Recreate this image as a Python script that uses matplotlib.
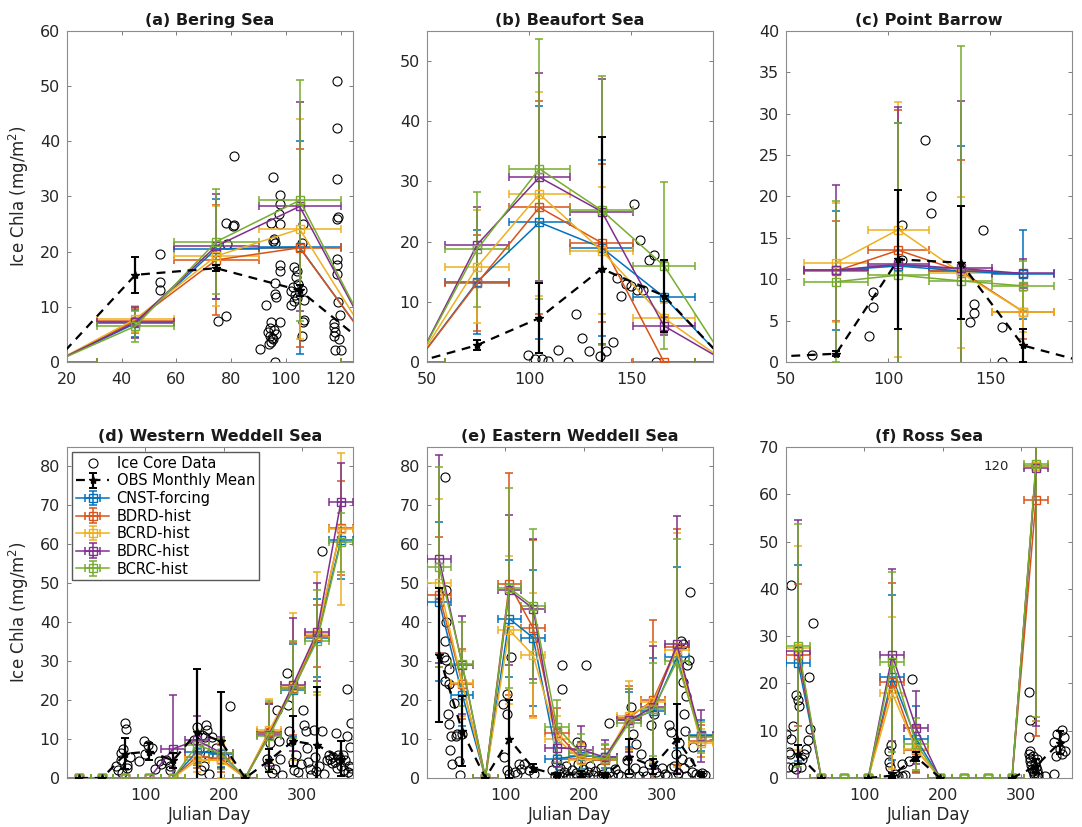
import numpy as np
import matplotlib
matplotlib.use("Agg")
import matplotlib.pyplot as plt

plt.rcParams['font.family'] = ['DejaVu Sans']

nan = np.nan

# calendar month boundaries (day of year); bars span each month
month_edges = [0, 31, 59, 90, 120, 151, 181, 212, 243, 273, 304, 334, 365]
day_mid = [(a + b) / 2 for a, b in zip(month_edges[:-1], month_edges[1:])]
day_half = [(b - a) / 2 for a, b in zip(month_edges[:-1], month_edges[1:])]

model_names = ['CNST-forcing', 'BDRD-hist', 'BCRD-hist', 'BDRC-hist', 'BCRC-hist']
model_colors = ['#0072BD', '#D95319', '#EDB120', '#7E2F8E', '#77AC30']

# ---------------- (a) Bering Sea ----------------
bering_model = [
    [0, 7.0, 20.5, 20.8, 0, nan, nan, nan, nan, nan, nan, nan],
    [0, 7.5, 18.5, 20.7, 0, nan, nan, nan, nan, nan, nan, nan],
    [0, 7.8, 19.2, 24.1, 0, nan, nan, nan, nan, nan, nan, nan],
    [0, 7.2, 21.0, 28.2, 0, nan, nan, nan, nan, nan, nan, nan],
    [0, 6.5, 21.8, 29.3, 0, nan, nan, nan, nan, nan, nan, nan],
]
bering_model_err = [
    [0, 2.5, 9.0, 19.3, 0, nan, nan, nan, nan, nan, nan, nan],
    [0, 2.2, 10.0, 18.0, 0, nan, nan, nan, nan, nan, nan, nan],
    [0, 2.3, 9.1, 20.0, 0, nan, nan, nan, nan, nan, nan, nan],
    [0, 2.8, 9.5, 19.0, 0, nan, nan, nan, nan, nan, nan, nan],
    [0, 2.8, 9.5, 21.8, 0, nan, nan, nan, nan, nan, nan, nan],
]
bering_obs = [0, 15.8, 17.0, 13.0, 0.7, nan, nan, nan, nan, nan, nan, nan]
bering_obs_err = [0, 3.3, 0.5, 1.0, 0, nan, nan, nan, nan, nan, nan, nan]
bering_core_x = [54.1, 54.1, 54.1, 81, 78, 80.7, 81.2, 78.3, 78, 75,
                 95.4, 94.6, 98, 97.8, 97.6, 97.8, 95.5, 95.2, 96, 98, 97.8, 95.9, 95.9, 96.2,
                 92.8, 97.8, 94.5, 94, 93.5, 94.2, 94.8, 95.3, 94.6, 93.8, 95.5, 96.2, 90.7, 95.9,
                 103, 103.5, 102.5, 102, 103.2, 104, 102.8, 104.5, 101.8, 104, 106, 106.3, 106,
                 106.7, 106.5, 106.3, 105.8,
                 118.8, 118.8, 118.8, 118.8, 119, 118.8, 118.8, 118.8, 119.1, 119.8, 117.6,
                 117.5, 117.9, 117.6, 119.4, 117.9, 120]
bering_core_y = [19.5, 14.5, 13.1, 37.3, 25.2, 24.6, 24.8, 21.3, 8.3, 7.4,
                 33.5, 25.2, 30.3, 28.6, 26.9, 25.0, 22.3, 21.9, 21.6, 17.5, 16.5, 14.3, 12.4, 11.8,
                 10.4, 7.2, 7.3, 6.2, 5.4, 4.8, 4.4, 4.1, 3.6, 3.2, 5.8, 5.0, 2.3, 0.0,
                 17.2, 15.4, 13.6, 12.8, 12.2, 11.6, 11.1, 14.2, 10.3, 16.5, 21.5, 25.0, 13.0,
                 11.2, 7.6, 7.3, 4.8,
                 51.0, 42.5, 33.2, 25.9, 26.2, 18.7, 17.5, 16.0, 10.9, 8.5, 7.0,
                 6.4, 5.4, 4.8, 4.2, 2.2, 2.1]

# ---------------- (b) Beaufort Sea ----------------
beaufort_model = [
    [nan, 0, 13.3, 23.2, 19.0, 10.8, 0, nan, nan, nan, nan, nan],
    [nan, 0, 13.1, 25.7, 19.8, 0.0, 0, nan, nan, nan, nan, nan],
    [nan, 0, 15.8, 27.9, 18.5, 7.3, 0, nan, nan, nan, nan, nan],
    [nan, 0, 19.5, 30.7, 25.0, 6.0, 0, nan, nan, nan, nan, nan],
    [nan, 0, 18.7, 32.1, 25.2, 16.0, 0, nan, nan, nan, nan, nan],
]
beaufort_model_err = [
    [nan, 0, 8.7, 19.3, 14.6, 6.0, 0, nan, nan, nan, nan, nan],
    [nan, 0, 8.0, 17.7, 13.1, 0.0, 0, nan, nan, nan, nan, nan],
    [nan, 0, 9.4, 17.0, 10.5, 2.5, 0, nan, nan, nan, nan, nan],
    [nan, 0, 6.3, 17.3, 22.0, 1.5, 0, nan, nan, nan, nan, nan],
    [nan, 0, 9.5, 21.6, 22.3, 13.9, 0, nan, nan, nan, nan, nan],
]
beaufort_obs = [nan, 0, 2.8, 7.3, 15.5, 11.0, 0, nan, nan, nan, nan, nan]
beaufort_obs_err = [nan, 0, 0.8, 5.8, 21.9, 6.0, 0, nan, nan, nan, nan, nan]
beaufort_core_x = [151.1, 154.4, 158.9, 161.3, 142.8, 144.8, 147.3, 149.8, 152.7, 155.5, 162.1,
                   99.5, 102.8, 106.1, 109.1, 114, 119, 122.9, 125.9, 129.2, 134.9, 137.4, 141.2]
beaufort_core_y = [26.2, 20.2, 17.0, 17.7, 14.0, 10.9, 13.0, 12.6, 11.9, 11.9, 0.0,
                   1.1, 0.55, 0.55, 0.2, 2.0, 0.0, 8.0, 4.0, 1.8, 0.95, 1.9, 3.3]

# ---------------- (c) Point Barrow ----------------
barrow_model = [
    [nan, nan, 11.1, 11.6, 11.0, 10.6, nan, nan, nan, nan, nan, nan],
    [nan, nan, 11.0, 13.5, 11.0, 6.1, nan, nan, nan, nan, nan, nan],
    [nan, nan, 12.0, 16.0, 10.8, 6.1, nan, nan, nan, nan, nan, nan],
    [nan, nan, 11.1, 11.8, 11.3, 10.7, nan, nan, nan, nan, nan, nan],
    [nan, nan, 9.7, 10.5, 9.8, 9.2, nan, nan, nan, nan, nan, nan],
]
barrow_model_err = [
    [nan, nan, 7.2, 17.3, 15.1, 5.4, nan, nan, nan, nan, nan, nan],
    [nan, nan, 6.0, 17.0, 13.4, 3.3, nan, nan, nan, nan, nan, nan],
    [nan, nan, 7.2, 15.4, 9.1, 2.5, nan, nan, nan, nan, nan, nan],
    [nan, nan, 10.3, 19.0, 20.3, 1.8, nan, nan, nan, nan, nan, nan],
    [nan, nan, 9.7, 18.4, 28.4, 3.0, nan, nan, nan, nan, nan, nan],
]
barrow_obs = [nan, 0.65, 1.0, 12.4, 12.0, 2.0, 0, nan, nan, nan, nan, nan]
barrow_obs_err = [nan, 0, 0.3, 8.4, 6.8, 2.0, 0, nan, nan, nan, nan, nan]
barrow_core_x = [62.8, 90.8, 92.4, 92.7, 106.8, 107, 118, 120.9, 120.9, 146.6, 140, 142.1, 142.1,
                 155.9, 155.9]
barrow_core_y = [0.9, 3.2, 6.6, 8.5, 16.6, 12.3, 26.8, 20.0, 18.0, 15.9, 4.8, 7.0, 5.9,
                 4.2, 0.0]

# ---------------- (d) Western Weddell Sea ----------------
wweddell_model = [
    [0, 0, 0, 0, 0, 6.8, 6.2, 0, 11.6, 22.5, 36.0, 61.0],
    [0, 0, 0, 0, 0, 5.5, 5.0, 0, 11.8, 23.0, 36.5, 64.2],
    [0, 0, 0, 0, 0, 4.6, 4.5, 0, 12.2, 23.5, 37.0, 64.0],
    [0, 0, 0, 0, 7.5, 9.7, 6.5, 0, 11.0, 24.0, 37.4, 70.8],
    [0, 0, 0, 0, 0, 8.5, 6.3, 0, 10.8, 22.8, 35.2, 60.5],
]
wweddell_model_err = [
    [0, 0, 0, 0, 0, 3.0, 3.5, 0, 7.5, 12.0, 10.0, 10.0],
    [0, 0, 0, 0, 0, 3.0, 3.5, 0, 7.5, 12.0, 8.0, 12.0],
    [0, 0, 0, 0, 0, 3.0, 4.5, 0, 8.1, 19.0, 15.8, 19.5],
    [0, 0, 0, 0, 13.7, 6.3, 4.0, 0, 8.0, 17.0, 12.6, 10.1],
    [0, 0, 0, 0, 0, 3.5, 4.0, 0, 9.0, 12.5, 13.0, 7.5],
]
wweddell_obs = [0, 0, 6.2, 6.8, 4.5, 11.8, 9.4, 0, 4.5, 9.5, 8.5, 5.0]
wweddell_obs_err = [0, 0, 4.0, 2.3, 2.0, 16.2, 12.6, 0, 3.0, 6.5, 14.8, 4.4]
wweddell_core_x = [73.7, 75.8, 68.6, 62.3, 65.2, 76.3, 76.3, 68.6, 70, 72, 80, 91.9, 98.3, 109,
                   104, 100, 117.4, 120, 131.4, 131.4, 126, 112,
                   162, 166.2, 176.8, 178.1, 174.7, 181, 170.5, 172, 168, 180, 185, 190, 207.8,
                   200, 176,
                   255, 259, 258, 262, 265, 268.1, 270, 272, 275, 280.8, 281.6, 283, 286, 288,
                   290, 292, 295, 298, 301.2, 302.9, 305.4, 306.3, 308, 310, 312, 314.8, 316,
                   318, 325.4, 325.4, 322, 328, 332, 334, 336, 338, 340, 342, 343.6, 345, 346,
                   348, 350, 352, 354, 355, 357.2, 357.2, 358, 360, 361, 362, 363, 363]
wweddell_core_y = [14.2, 12.5, 6.4, 3.0, 2.1, 2.6, 3.4, 4.7, 1.2, 7.5, 5.5, 4.3, 9.6, 7.7,
                   8.5, 6.2, 4.3, 3.5, 3.0, 2.1, 4.6, 2.2,
                   9.8, 13.2, 13.6, 12.4, 3.0, 1.1, 2.1, 11.0, 7.5, 6.0, 10.5, 7.8, 18.5,
                   5.5, 10.5,
                   5.0, 9.0, 3.0, 1.2, 2.4, 17.5, 9.5, 5.0, 0.8, 26.9, 18.8, 12.0, 9.5, 4.0,
                   2.0, 6.0, 1.5, 3.5, 17.5, 13.6, 12.0, 7.7, 4.2, 2.2, 0.8, 12.4, 5.5,
                   1.8, 58.4, 12.0, 3.0, 1.0, 4.5, 6.0, 5.0, 3.8, 5.5, 4.2, 11.5, 2.5, 6.0,
                   4.8, 3.2, 5.8, 2.0, 4.5, 22.8, 10.8, 1.5, 3.0, 8.0, 2.5, 14.0, 1.0]

# ---------------- (e) Eastern Weddell Sea ----------------
eweddell_model = [
    [45.3, 21.4, 0, 40.9, 36.0, 5.0, 5.7, 5.5, 15.0, 17.2, 31.0, 11.0],
    [47.0, 24.2, 0, 49.8, 38.5, 11.5, 5.0, 4.5, 15.5, 20.0, 33.7, 9.5],
    [50.0, 24.3, 0, 38.0, 31.5, 10.0, 4.7, 5.0, 16.0, 19.5, 32.8, 9.0],
    [56.2, 29.0, 0, 48.2, 43.5, 7.8, 7.3, 5.3, 14.8, 18.2, 34.3, 10.8],
    [54.2, 29.3, 0, 48.8, 44.2, 13.0, 6.3, 4.8, 14.2, 17.6, 30.0, 10.5],
]
eweddell_model_err = [
    [20.5, 8.0, 0, 15.0, 17.5, 4.0, 3.5, 3.0, 7.0, 13.5, 23.3, 4.0],
    [15.0, 9.0, 0, 28.4, 22.5, 6.5, 4.0, 3.0, 8.0, 20.5, 30.3, 4.0],
    [21.6, 8.3, 0, 19.0, 16.0, 6.0, 4.0, 3.5, 9.0, 15.5, 30.0, 3.5],
    [26.7, 12.5, 0, 19.3, 18.0, 5.0, 6.1, 4.4, 8.0, 15.8, 33.0, 6.7],
    [25.6, 10.7, 0, 25.7, 19.8, 7.0, 5.0, 4.0, 8.6, 12.0, 31.5, 4.0],
]
eweddell_obs = [31.5, 12.0, 0, 10.0, 2.5, 0.8, 1.0, 0.8, 5.5, 3.0, 10.0, 1.0]
eweddell_obs_err = [17.2, 9.0, 0, 10.0, 1.0, 0.5, 0.8, 0.5, 4.5, 2.0, 9.0, 0.5]
eweddell_core_x = [23.4, 24.7, 24.7, 23.1, 22, 24.7, 27.6, 23.4, 27.6, 26.5, 27.6, 30.6, 29,
                   37.5, 34.1, 38, 40.5, 42.7, 44.8, 32.3,
                   106.6, 102.4, 97.3, 102.4, 98.2, 101.6, 104.5, 115.2, 119.4, 123.7, 130.1,
                   136.5, 111.8, 117.3,
                   172.8, 172.8, 202.7, 231.7, 196.3, 192, 160, 163, 165, 168, 170, 172, 175,
                   178, 180, 185, 188, 190, 193, 196, 199, 202, 205, 208, 212, 215, 218, 222,
                   225, 228, 232, 236, 240, 244, 248,
                   260.3, 262.4, 266.6, 273, 255, 258, 265, 270, 276, 280, 286, 290.2, 283,
                   292, 296, 300, 304, 309.3, 312, 317.6, 324.3, 327, 326.4, 327.7, 334.4, 332,
                   336.2, 330, 322, 325, 315, 320, 328, 331, 335, 338, 343.5, 347, 351, 355,
                   340, 329, 312, 306]
eweddell_core_y = [77.4, 48.3, 40.0, 35.3, 31.0, 30.2, 28.0, 24.9, 24.2, 16.5, 13.9, 10.9, 7.3,
                   10.9, 19.2, 11.4, 4.3, 0.7, 11.4, 3.7,
                   31.0, 21.6, 19.1, 16.5, 5.4, 2.0, 0.9, 1.1, 2.4, 3.7, 2.0,
                   1.1, 1.5, 3.7,
                   29.1, 22.9, 29.1, 14.1, 8.4, 9.2, 2.0, 0.5, 4.0, 1.0, 2.5, 0.3, 1.5,
                   3.0, 0.6, 2.0, 0.4, 1.2, 3.5, 0.8, 2.2, 0.5, 1.5, 3.0, 0.7, 1.8, 0.4, 2.5,
                   1.0, 0.3, 1.6, 0.6, 2.2, 0.9, 0.4,
                   18.2, 11.4, 8.8, 6.2, 4.5, 1.2, 2.5, 0.5, 1.8, 0.6, 13.5, 16.5, 3.5,
                   1.5, 0.4, 2.5, 1.0, 13.5, 11.8, 6.2, 35.3, 34.5, 24.6, 16.5, 30.2, 29.0,
                   47.7, 21.0, 9.0, 5.0, 3.0, 1.2, 2.5, 0.5, 4.0, 1.5, 1.1, 0.6, 1.3, 0.8,
                   8.0, 12.0, 2.5, 0.5]

# ---------------- (f) Ross Sea ----------------
ross_model = [
    [24.3, 0, 0, 0, 21.3, 8.3, 0, 0, 0, 0, 66.0, nan],
    [26.0, 0, 0, 0, 20.2, 6.0, 0, 0, 0, 0, 58.8, nan],
    [27.5, 0, 0, 0, 18.0, 6.1, 0, 0, 0, 0, 66.0, nan],
    [26.8, 0, 0, 0, 26.0, 10.6, 0, 0, 0, 0, 65.5, nan],
    [28.0, 0, 0, 0, 24.5, 7.2, 0, 0, 0, 0, 66.5, nan],
]
ross_model_err = [
    [20.7, 0, 0, 0, 17.5, 7.0, 0, 0, 0, 0, 54.0, nan],
    [15.0, 0, 0, 0, 21.0, 5.0, 0, 0, 0, 0, 50.0, nan],
    [21.5, 0, 0, 0, 16.0, 4.5, 0, 0, 0, 0, 54.0, nan],
    [27.7, 0, 0, 0, 18.2, 7.7, 0, 0, 0, 0, 54.5, nan],
    [25.7, 0, 0, 0, 19.0, 5.5, 0, 0, 0, 0, 53.5, nan],
]
ross_obs = [5.0, 0, nan, 0, 0.5, 4.5, 0, nan, nan, 0, 2.5, 7.5]
ross_obs_err = [2.0, 0, nan, 0, 0.5, 1.0, 0, nan, nan, 0, 1.5, 2.5]
ross_core_x = [6.8, 0.4, 6.8, 3.4, 5.5, 2.5, 8.5, 13.1, 14.9, 16.5, 13.1, 19.6, 20.9, 22.6, 27.8,
               26.1, 34.2, 28.9, 31.1, 8.9,
               134, 131, 131, 133.2, 139.6, 143, 148, 152, 136, 160.8, 156.5, 148,
               310.5, 311.8, 310.5, 309.6, 311, 312, 313, 314, 315, 316, 317, 318, 319, 320,
               321, 322, 312, 315, 320, 341.4, 330, 352, 354.2, 345.7, 349.1, 352, 356.3,
               344.8, 341.4]
ross_core_y = [40.8, 9.2, 8.3, 5.5, 5.1, 2.3, 11.1, 17.5, 16.4, 15.3, 2.0, 2.3, 4.1, 5.1, 8.0,
               6.2, 32.7, 21.3, 10.4, 2.3,
               7.0, 5.8, 3.4, 2.3, 0.9, 0.5, 0.4, 0.6, 0.3, 21.0, 3.7, 3.0,
               18.2, 12.3, 8.7, 5.1, 4.2, 3.5, 2.8, 2.0, 1.5, 1.0, 0.6, 3.2, 2.4, 1.7,
               0.8, 0.3, 5.8, 4.6, 4.0, 0.8, 0.5, 10.1, 8.7, 9.4, 6.2, 5.1, 5.8,
               4.6, 7.6]

panels = [
    dict(title='(a) Bering Sea', model=bering_model, err=bering_model_err,
         obs=bering_obs, obs_err=bering_obs_err, cx=bering_core_x, cy=bering_core_y,
         xlim=(20, 124.5), ylim=(0, 60), xticks=[20, 40, 60, 80, 100, 120],
         yticks=range(0, 61, 10)),
    dict(title='(b) Beaufort Sea', model=beaufort_model, err=beaufort_model_err,
         obs=beaufort_obs, obs_err=beaufort_obs_err, cx=beaufort_core_x, cy=beaufort_core_y,
         xlim=(50, 190), ylim=(0, 55), xticks=[50, 100, 150], yticks=range(0, 51, 10)),
    dict(title='(c) Point Barrow', model=barrow_model, err=barrow_model_err,
         obs=barrow_obs, obs_err=barrow_obs_err, cx=barrow_core_x, cy=barrow_core_y,
         xlim=(50, 190), ylim=(0, 40), xticks=[50, 100, 150], yticks=range(0, 41, 5)),
    dict(title='(d) Western Weddell Sea', model=wweddell_model, err=wweddell_model_err,
         obs=wweddell_obs, obs_err=wweddell_obs_err, cx=wweddell_core_x, cy=wweddell_core_y,
         xlim=(0, 365), ylim=(0, 85), xticks=[100, 200, 300], yticks=range(0, 81, 10)),
    dict(title='(e) Eastern Weddell Sea', model=eweddell_model, err=eweddell_model_err,
         obs=eweddell_obs, obs_err=eweddell_obs_err, cx=eweddell_core_x, cy=eweddell_core_y,
         xlim=(0, 365), ylim=(0, 85), xticks=[100, 200, 300], yticks=range(0, 81, 10)),
    dict(title='(f) Ross Sea', model=ross_model, err=ross_model_err,
         obs=ross_obs, obs_err=ross_obs_err, cx=ross_core_x, cy=ross_core_y,
         xlim=(0, 365), ylim=(0, 70), xticks=[100, 200, 300], yticks=range(0, 71, 10)),
]

W, H = 1082, 827
fig = plt.figure(figsize=(W / 100, H / 100), dpi=100)
lefts = [67, 427, 786]
tops = [31, 447]
axw, axh = 286, 331

axes = []
for i, p in enumerate(panels):
    row, col = divmod(i, 3)
    l = lefts[col] / W
    b = 1 - (tops[row] + axh) / H
    ax = fig.add_axes([l, b, axw / W, axh / H])
    axes.append(ax)

    core, = ax.plot(p['cx'], p['cy'], 'o', mfc='none', mec='k', ms=6.5, mew=0.8,
                    zorder=2, label='Ice Core Data')
    model_handles = []
    for name, color, vals, errs in zip(model_names, model_colors, p['model'], p['err']):
        h = ax.errorbar(day_mid, vals, xerr=day_half, yerr=errs, color=color,
                        marker='s', mfc='none', mec=color, ms=6, lw=1.1, elinewidth=1.1,
                        capsize=3, capthick=1.1, zorder=3, label=name)
        model_handles.append(h)
    obs = ax.errorbar(day_mid, p['obs'], yerr=p['obs_err'], color='k', ls='--', lw=1.6,
                      marker='*', ms=6, elinewidth=1.6, capsize=3, capthick=1.4,
                      dashes=(4, 3), zorder=4, label='OBS Monthly Mean')
    handles = [core, obs] + model_handles

    ax.set_xlim(*p['xlim'])
    ax.set_ylim(*p['ylim'])
    ax.set_xticks(p['xticks'])
    ax.set_yticks(list(p['yticks']))
    ax.tick_params(direction='in', top=True, right=True, length=3, width=0.6,
                   labelsize=11.5, colors='0.4', labelcolor='#262626')
    ax.tick_params(axis='x', pad=7)
    ax.tick_params(axis='y', pad=5)
    for s in ax.spines.values():
        s.set_color('0.55')
        s.set_linewidth(0.8)
    ax.set_title(p['title'], fontsize=11.5, fontweight='bold', color='#1a1a1a', pad=4)
    if col == 0:
        ax.set_ylabel('Ice Chla (mg/m$^2$)', fontsize=12, color='#262626', labelpad=6)
    if row == 1:
        ax.set_xlabel('Julian Day', fontsize=12, color='#262626', labelpad=2)
    if i == 3:
        ax.legend(handles=handles, loc='upper left', fontsize=10.5, frameon=True,
                  fancybox=False, edgecolor='0.35', framealpha=1, borderpad=0.25,
                  labelspacing=0.18, handlelength=2.3, handletextpad=0.5,
                  borderaxespad=0.35)

# annotation of the off-scale upper error bar in the Ross Sea panel
axes[5].text(268, 65.9, '120', fontsize=9.5, ha='center', va='center', color='#262626')

fig.savefig('out.png', dpi=100)
